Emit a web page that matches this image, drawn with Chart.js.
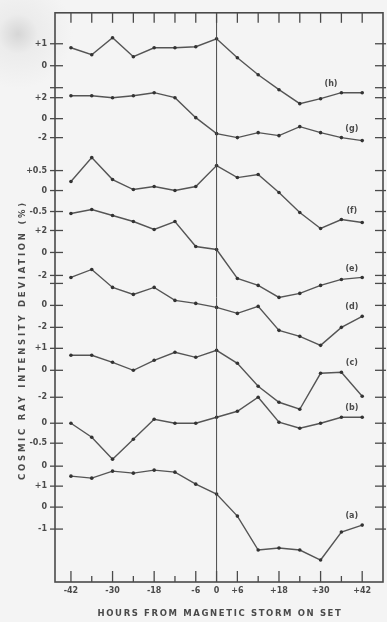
<!DOCTYPE html>
<html lang="en">
<head>
  <meta charset="UTF-8">
  <title>Cosmic ray intensity deviation</title>
  <script src="https://cdn.jsdelivr.net/npm/chart.js"></script>
  <style>
    body {
      margin: 0;
      background: radial-gradient(circle at 18px 34px, #d6d6d6 0, #ececec 20px, #f4f4f4 55px);
    }
    canvas { display: block; }
  </style>
</head>
<body>
  <canvas id="chart" width="387" height="622"></canvas>

  <script>
    // hours from magnetic storm onset
    const hours = [-42, -36, -30, -24, -18, -12, -6, 0, 6, 12, 18, 24, 30, 36, 42];

    // each curve, in plot units (stacked panels, 0 = bottom axis)
    const curveH = [53.5, 52.8, 54.5, 52.6, 53.5, 53.5, 53.6, 54.4, 52.5, 50.8, 49.3, 47.9, 48.4, 49.0, 49.0];
    const curveG = [48.7, 48.7, 48.5, 48.7, 49.0, 48.5, 46.5, 44.9, 44.5, 45.0, 44.7, 45.6, 45.0, 44.5, 44.2];
    const curveF = [40.1, 42.5, 40.3, 39.3, 39.6, 39.2, 39.6, 41.7, 40.5, 40.8, 39.0, 37.0, 35.4, 36.3, 36.0];
    const curveE = [36.9, 37.3, 36.7, 36.1, 35.3, 36.1, 33.6, 33.3, 30.4, 29.7, 28.5, 28.9, 29.7, 30.3, 30.5];
    const curveD = [30.5, 31.3, 29.5, 28.8, 29.5, 28.2, 27.9, 27.5, 26.9, 27.6, 25.2, 24.6, 23.7, 25.5, 26.6];
    const curveC = [22.7, 22.7, 22.0, 21.2, 22.2, 23.0, 22.5, 23.2, 21.9, 19.6, 18.0, 17.3, 20.9, 21.0, 18.6];
    const curveB = [15.9, 14.5, 12.3, 14.3, 16.3, 15.9, 15.9, 16.5, 17.1, 18.5, 16.0, 15.4, 15.9, 16.5, 16.5];
    const curveA = [10.6, 10.4, 11.1, 10.9, 11.2, 11.0, 9.8, 8.8, 6.6, 3.2, 3.4, 3.2, 2.2, 5.0, 5.7];

    const curveNames = ['(h)', '(g)', '(f)', '(e)', '(d)', '(c)', '(b)', '(a)'];
    const curves = [curveH, curveG, curveF, curveE, curveD, curveC, curveB, curveA];
    // hour at which each curve's tag is written
    const nameHours = [33, 39, 39, 39, 39, 39, 39, 39];

    // y ticks (plot units) and the deviation (%) printed next to them
    const yTickValues = [53.9, 51.7, 49.5, 48.5, 46.4, 44.5, 41.2, 39.2, 37.1, 35.2, 33.0, 30.7, 29.9, 27.7, 25.5, 23.4, 21.2, 18.5, 15.9, 13.9, 11.6, 9.6, 7.5, 5.3];
    const yTickLabels = ['+1', '0', '', '+2', '0', '-2', '+0.5', '0', '-0.5', '+2', '0', '-2', '', '0', '-2', '+1', '0', '-2', '0', '-0.5', '0', '+1', '0', '-1'];

    const xTickValues = [-42, -30, -18, -6, 0, 6, 18, 30, 42];

    const INK = '#4a4a4a';
    const FONT = 'DejaVu Sans';

    const frame = {
      id: 'frame',
      afterDatasetsDraw(chart) {
        const { ctx, chartArea: a, scales: { x, y } } = chart;
        ctx.save();
        ctx.strokeStyle = INK;

        // storm onset line
        ctx.lineWidth = 1;
        const x0 = x.getPixelForValue(0);
        ctx.beginPath(); ctx.moveTo(x0, a.top); ctx.lineTo(x0, a.bottom); ctx.stroke();

        // box
        ctx.lineWidth = 1.6;
        ctx.strokeRect(a.left, a.top, a.right - a.left, a.bottom - a.top);

        // inward ticks
        ctx.lineWidth = 1.3;
        yTickValues.forEach(v => {
          const py = y.getPixelForValue(v);
          ctx.beginPath(); ctx.moveTo(a.left - 5, py); ctx.lineTo(a.left + 8, py); ctx.stroke();
          ctx.beginPath(); ctx.moveTo(a.right - 8, py); ctx.lineTo(a.right + 3, py); ctx.stroke();
        });
        hours.forEach(h => {
          const px = x.getPixelForValue(h);
          const major = xTickValues.includes(h);
          ctx.beginPath(); ctx.moveTo(px, a.bottom); ctx.lineTo(px, a.bottom - (major ? 11 : 6)); ctx.stroke();
          ctx.beginPath(); ctx.moveTo(px, a.top); ctx.lineTo(px, a.top + 10); ctx.stroke();
        });

        // curve tags, just above the higher of the last two points
        ctx.fillStyle = INK;
        ctx.font = 'bold 8px ' + FONT;
        ctx.textAlign = 'center';
        ctx.textBaseline = 'middle';
        curves.forEach((c, i) => {
          const top = Math.max(c[c.length - 1], c[c.length - 2]);
          ctx.fillText(curveNames[i], x.getPixelForValue(nameHours[i]), y.getPixelForValue(top) - 9);
        });

        // axis titles, spread to the width they take in the figure
        const spread = (text, cx, cy, width, rot) => {
          ctx.save();
          ctx.translate(cx, cy);
          ctx.rotate(rot);
          ctx.font = 'bold 8.5px ' + FONT;
          const w0 = ctx.measureText(text).width;
          ctx.letterSpacing = ((width - w0) / text.length).toFixed(2) + 'px';
          ctx.textAlign = 'center';
          ctx.fillText(text, 0, 0);
          ctx.restore();
        };
        spread('HOURS FROM MAGNETIC STORM ON SET', 220, 614, 245, 0);
        spread('COSMIC RAY INTENSITY DEVIATION (%)', 23, 340, 280, -Math.PI / 2);
        ctx.restore();
      }
    };

    new Chart(document.getElementById('chart'), {
      type: 'line',
      data: {
        datasets: curves.map((c, i) => ({
          label: curveNames[i],
          data: hours.map((h, j) => ({ x: h, y: c[j] })),
          borderColor: '#555',
          borderWidth: 1.4,
          pointRadius: 1.8,
          pointBackgroundColor: '#333',
          pointBorderWidth: 0,
          tension: 0
        }))
      },
      options: {
        responsive: false,
        animation: false,
        layout: { padding: { top: 12, right: 3, left: 0, bottom: 0 } },
        plugins: { legend: { display: false }, tooltip: { enabled: false } },
        scales: {
          x: {
            type: 'linear',
            min: -46.6,
            max: 48,
            afterBuildTicks: s => { s.ticks = xTickValues.map(v => ({ value: v })); },
            afterFit: s => { s.height = 40; },
            grid: { display: false, drawTicks: false },
            border: { display: false },
            ticks: {
              padding: 4,
              color: INK,
              font: { family: FONT, size: 8, weight: 'bold' },
              maxRotation: 0,
              callback: v => (v > 0 ? '+' + v : '' + v)
            }
          },
          y: {
            min: 0,
            max: 57,
            afterBuildTicks: s => { s.ticks = yTickValues.map(v => ({ value: v })); },
            afterFit: s => { s.width = 55; },
            grid: { display: false, drawTicks: false },
            border: { display: false },
            ticks: {
              padding: 8,
              color: INK,
              font: { family: FONT, size: 8, weight: 'bold' },
              callback: (v, i) => yTickLabels[i]
            }
          }
        }
      },
      plugins: [frame]
    });
  </script>
</body>
</html>
